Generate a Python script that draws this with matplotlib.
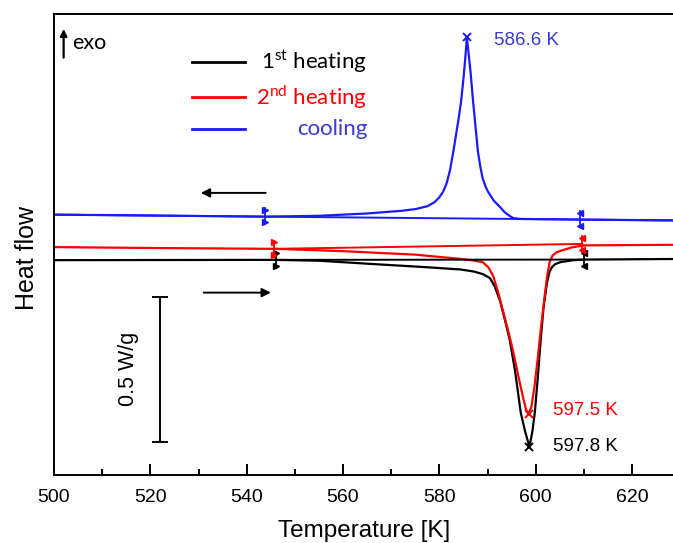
import numpy as np
import matplotlib
matplotlib.use('Agg')
import matplotlib.pyplot as plt
from matplotlib.ticker import MultipleLocator

plt.rcParams['font.family'] = ['Liberation Sans', 'DejaVu Sans']
plt.rcParams['mathtext.fontset'] = 'custom'
plt.rcParams['mathtext.rm'] = 'Lato'

# 1st heating (black), heat flow in W/g with offset
t_heat1 = [500, 546, 555, 567.8, 577, 584.3, 587.1, 589.0, 590.5, 591.5, 592.6, 593.6, 594.6,
           595.7, 596.9, 597.8, 598.7, 599.3, 599.8, 600.4, 601.0, 601.6, 602.3, 602.8, 603.3,
           604.0, 605.1, 607.8, 610, 628.7]
q_heat1 = [0.741, 0.742, 0.739, 0.726, 0.717, 0.709, 0.702, 0.693, 0.679, 0.650, 0.600, 0.535, 0.466,
           0.360, 0.214, 0.150, 0.097, 0.150, 0.214, 0.330, 0.460, 0.575, 0.660, 0.698, 0.716,
           0.727, 0.734, 0.741, 0.743, 0.745]

# 2nd heating (red)
t_heat2 = [500, 520, 546, 560, 575, 584, 587, 589, 590.2, 591.2, 592.2, 593.3, 594.4, 595.4,
           596.4, 597.4, 598.0, 598.5, 599.1, 599.7, 600.4, 601.1, 601.8, 602.4, 602.9, 603.5,
           604.3, 605.5, 607.5, 610, 620, 628.7]
q_heat2 = [0.786, 0.783, 0.780, 0.772, 0.760, 0.746, 0.740, 0.734, 0.716, 0.685, 0.630, 0.560,
           0.490, 0.420, 0.340, 0.265, 0.225, 0.210, 0.235, 0.300, 0.400, 0.510, 0.610, 0.690,
           0.735, 0.757, 0.768, 0.775, 0.785, 0.792, 0.793, 0.794]

# cooling (blue)
t_cool = [500, 520, 544, 555, 565, 572, 575, 577.5, 579, 580, 580.8, 581.5, 582.2, 582.9, 583.5,
          584.0, 584.5, 585.0, 585.4, 585.7, 586.0, 586.5, 587.0, 587.5, 588.0, 588.5, 589.0,
          589.6, 590.1, 591.3, 592.6, 593.5, 594.3, 595.3, 597, 609, 628.7]
q_cool = [0.898, 0.895, 0.891, 0.894, 0.902, 0.911, 0.917, 0.927, 0.941, 0.958, 0.978, 1.006,
          1.051, 1.116, 1.178, 1.230, 1.288, 1.368, 1.443, 1.510, 1.464, 1.384, 1.287, 1.201,
          1.115, 1.063, 1.022, 0.994, 0.977, 0.946, 0.924, 0.907, 0.897, 0.886, 0.883, 0.881, 0.878]

# integration limits / baselines (T, q)
base_heat1 = ([546, 610], [0.742, 0.743])
base_heat2 = ([545.7, 609.7], [0.780, 0.797])
base_cool = ([500, 628.7], [0.898, 0.878])
lim_cool = ([543.8, 609.2], [0.893, 0.882])

# peaks
peak_t = [585.7, 598.5, 598.7]
peak_q = [1.510, 0.210, 0.097]
peak_labels = ['586.6 K', '597.5 K', '597.8 K']

blue = '#1a1aff'
red = '#ff0000'

fig = plt.figure(figsize=(6.73, 5.43), dpi=100)
ax = fig.add_axes([54/673, 68/543, 620/673, 461/543])

ax.plot(t_heat1, q_heat1, color='black', lw=1.6)
ax.plot(t_heat2, q_heat2, color=red, lw=1.6)
ax.plot(t_cool, q_cool, color=blue, lw=1.6)
ax.plot(*base_heat1, color='black', lw=1.4)
ax.plot(*base_heat2, color=red, lw=1.4)
ax.plot(*base_cool, color=blue, lw=1.4)

# limit markers: small bar with flags
def limit_marks(ts, qs, c):
    for i, (t, q) in enumerate(zip(ts, qs)):
        ax.plot([t, t], [q - 0.027, q + 0.027], color=c, lw=1.3)
        m = '>' if i == 0 else '<'
        ax.plot([t, t], [q - 0.022, q + 0.022], ls='none', marker=m, ms=4, color=c)

limit_marks(base_heat1[0], base_heat1[1], 'black')
limit_marks(base_heat2[0], base_heat2[1], red)
limit_marks(*lim_cool, blue)

# peak markers and labels
pcol = [blue, red, 'black']
tcol = ['#3a3ad0', red, 'black']
for t, q, c in zip(peak_t, peak_q, pcol):
    ax.plot(t, q, marker='x', ms=6, mew=1.4, color=c)
ax.text(591.4, 1.50, peak_labels[0], color=tcol[0], fontsize=13.5, va='center')
ax.text(603.6, 0.221, peak_labels[1], color=tcol[1], fontsize=13.5, va='center')
ax.text(603.6, 0.097, peak_labels[2], color=tcol[2], fontsize=13.5, va='center')

# direction arrows
ax.annotate('', xy=(529.9, 0.973), xytext=(544.5, 0.973),
            arrowprops=dict(arrowstyle='-|>', color='black', lw=1.4, mutation_scale=13))
ax.annotate('', xy=(545.6, 0.629), xytext=(530.5, 0.629),
            arrowprops=dict(arrowstyle='-|>', color='black', lw=1.4, mutation_scale=13))

# exo arrow
ax.annotate('', xy=(502.0, 1.548), xytext=(502.0, 1.43),
            arrowprops=dict(arrowstyle='-|>', color='black', lw=1.6, mutation_scale=10))
ax.text(503.7, 1.49, 'exo', fontsize=15.5, family='Lato', va='center')

# scale bar 0.5 W/g
ax.plot([522, 522], [0.115, 0.615], color='black', lw=1.4)
ax.plot([522, 522], [0.115, 0.615], ls='none', marker='_', ms=11, mew=1.4, color='black')
ax.text(515.4, 0.365, '0.5 W/g', rotation=90, fontsize=15.5, ha='center', va='center')

# legend drawn by hand
leg_y = [0.8965, 0.8206, 0.7499]
leg_c = ['black', red, blue]
leg_tc = ['black', red, '#3a3ad0']
leg_txt = [r'1$^{\mathrm{st}}$ heating', r'2$^{\mathrm{nd}}$ heating', 'cooling']
for y, c, tc, s in zip(leg_y, leg_c, leg_tc, leg_txt):
    ax.plot([0.222, 0.308], [y, y], color=c, lw=2, transform=ax.transAxes)
    ax.text(0.505, y, s, color=tc, fontsize=16, family='Lato', ha='right', va='center',
            transform=ax.transAxes)

ax.set_xlim(500, 628.7)
ax.set_ylim(0, 1.59)
ax.set_xticks(np.arange(500, 621, 20))
ax.xaxis.set_minor_locator(MultipleLocator(10))
ax.set_yticks([])
ax.tick_params(axis='x', which='major', direction='in', length=8, width=1.4, labelsize=14, pad=10)
ax.tick_params(axis='x', which='minor', direction='in', length=4, width=1.4)
ax.spines['right'].set_visible(False)
for s in ['left', 'top', 'bottom']:
    ax.spines[s].set_linewidth(1.4)

ax.set_xlabel('Temperature [K]', fontsize=17.5, labelpad=10)
ax.set_ylabel('Heat flow', fontsize=18, labelpad=14)
ax.yaxis.set_label_coords(-0.024, 0.47)

fig.savefig('out.png', dpi=100)
